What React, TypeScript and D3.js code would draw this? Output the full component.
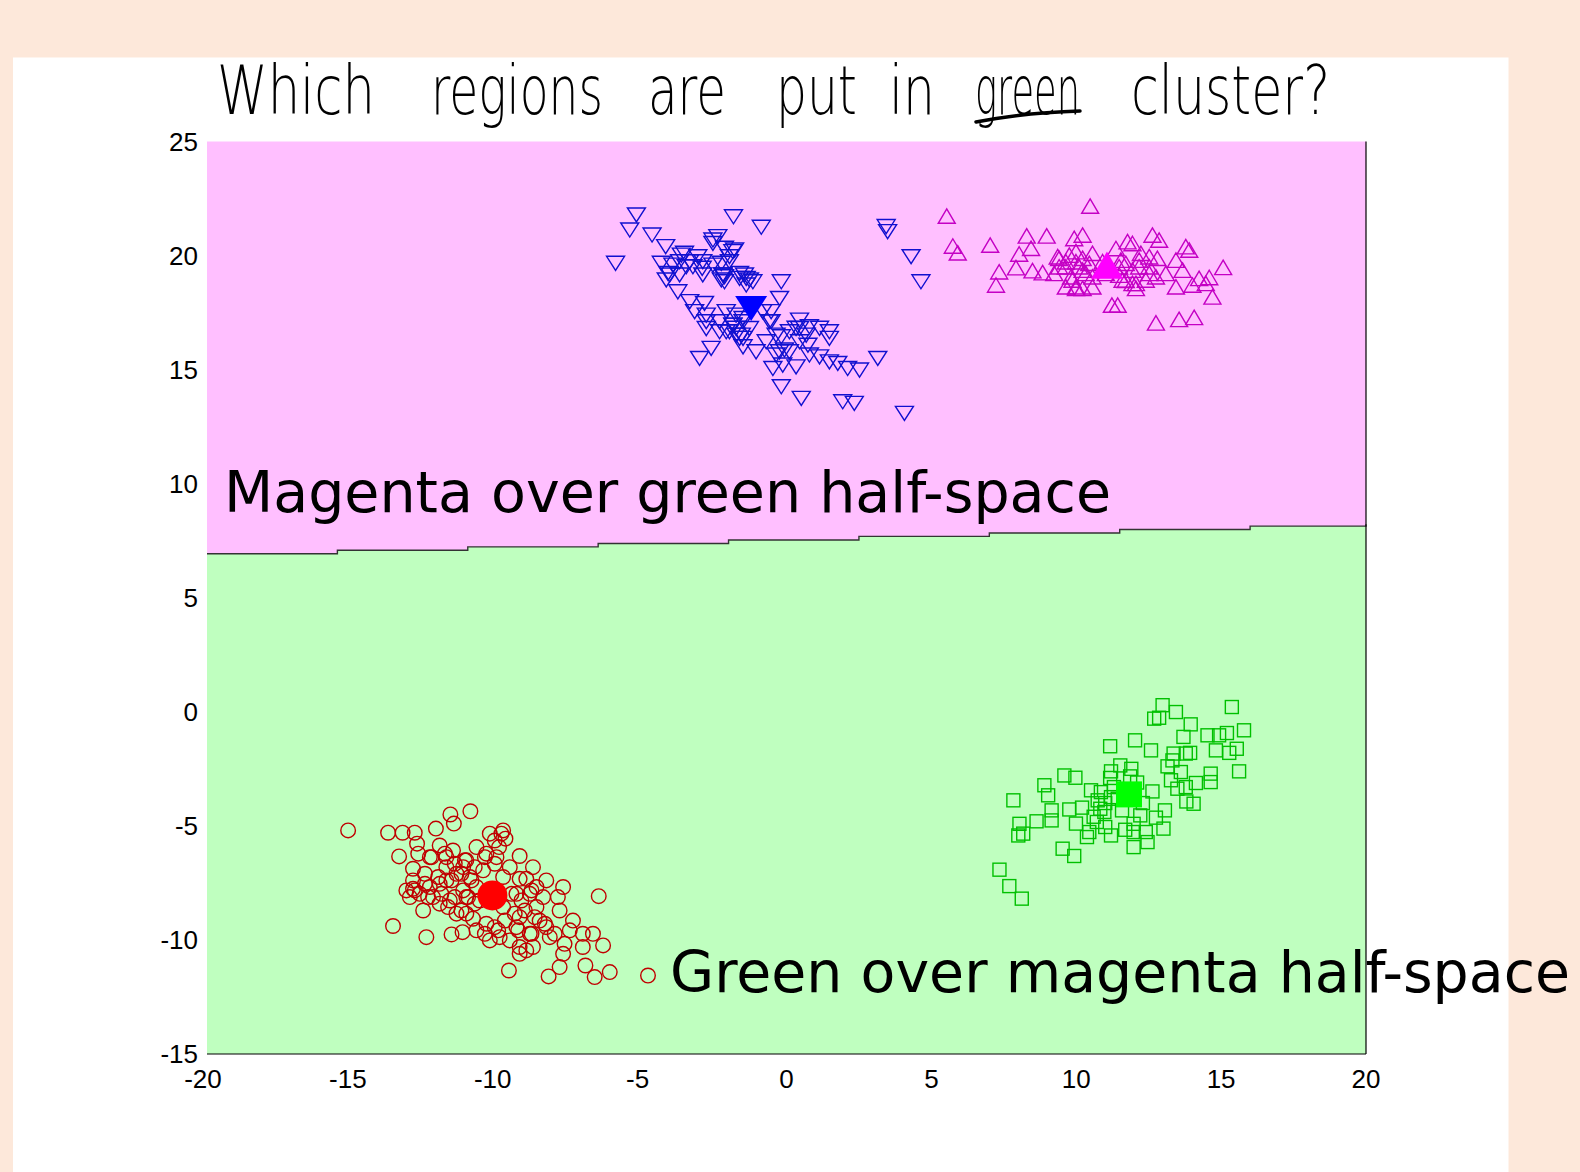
import React from 'react';
import * as d3 from 'd3';

// axis ticks
const xTicks = [-20, -15, -10, -5, 0, 5, 10, 15, 20];
const yTicks = [-15, -10, -5, 0, 5, 10, 15, 20, 25];

// decision boundary (stair-stepped, as rendered from the grid)
const boundaryX = [-20, -15.5, -11, -6.5, -2, 2.5, 7, 11.5, 16, 20];
const boundaryY = [6.93, 7.08, 7.23, 7.38, 7.53, 7.69, 7.84, 7.99, 8.14, 8.22];

// cluster points
const bluePoints: [number, number][] = [
  [-5.18, 21.78], [-5.41, 21.12], [-1.83, 21.7], [-0.87, 21.24], [-4.64, 20.9], [-5.9, 19.66],
  [-4.17, 20.39], [-3.63, 20.02], [-2.37, 20.83], [-2.54, 20.53], [-1.85, 20.17], [-1.97, 19.95],
  [-4.32, 19.66], [-3.34, 19.73], [-2.89, 19.73], [-2.25, 19.66], [-2.14, 19.07], [-4.09, 19.22],
  [-4.15, 18.93], [-3.69, 19.15], [-2.89, 19.15], [-1.45, 19.15], [-1.28, 18.93], [-0.18, 18.85],
  [-3.75, 18.41], [-3.34, 17.98], [-2.83, 17.9], [-3.17, 17.54], [-2.08, 17.54], [-1.74, 17.39],
  [-0.24, 18.12], [-0.53, 17.54], [-2.77, 16.8], [-2.31, 16.66], [-1.97, 16.66], [-1.56, 16.51],
  [-1.5, 16.0], [-1.05, 15.78], [-0.53, 17.1], [-0.18, 16.44], [-0.7, 16.22], [-0.36, 15.64],
  [-0.07, 15.86], [0.45, 17.17], [0.79, 16.88], [0.33, 16.81], [1.14, 16.81], [1.48, 16.66],
  [1.48, 16.37], [0.45, 16.22], [0.74, 16.07], [0.1, 15.78], [0.79, 15.64], [1.14, 15.56],
  [1.48, 15.34], [1.77, 15.27], [-0.47, 15.05], [-0.13, 15.2], [0.33, 15.12], [2.11, 15.05],
  [2.52, 14.98], [-2.6, 15.93], [-3.0, 15.49], [-0.18, 14.25], [0.51, 13.74], [1.94, 13.59],
  [2.34, 13.52], [3.15, 15.49], [4.07, 13.08], [3.44, 21.27], [3.49, 21.05], [4.3, 19.95],
  [4.64, 18.85], [-2.19, 19.15], [-2.25, 18.93], [-1.62, 19.22], [-1.39, 18.71], [-1.85, 16.95],
  [-1.74, 16.81], [-1.5, 17.1], [-1.62, 16.37], [-3.92, 19.58], [-3.46, 19.51], [-3.06, 19.95],
  [-3.52, 20.1], [-2.14, 20.32], [-1.97, 19.73], [-2.77, 17.1],
  [-2.54, 20.68], [-1.79, 20.24], [-2.2, 19.15], [-2.14, 18.85], [-1.62, 19.0], [-1.39, 19.0],
  [-1.16, 18.85], [-2.91, 19.44], [-3.23, 19.51], [-2.54, 19.58], [-3.69, 19.73], [-4.03, 19.15],
  [-1.5, 17.24], [-1.85, 16.95], [-2.08, 16.66], [-1.74, 16.51], [-1.5, 16.37], [-1.28, 16.8],
  [-2.31, 17.1], [-2.77, 17.39], [-0.82, 17.54], [-0.59, 17.1], [-0.36, 16.51], [0.1, 16.66],
  [0.45, 16.8], [0.68, 16.51], [-0.24, 15.78],
];
const blueCenter: [number, number] = [-1.22, 17.68];

const magentaPoints: [number, number][] = [
  [10.48, 22.17], [5.53, 21.73], [5.74, 20.42], [5.91, 20.12], [7.03, 20.46], [8.29, 20.86],
  [8.98, 20.86], [8.44, 20.32], [8.03, 20.07], [7.34, 19.29], [7.23, 18.71], [7.92, 19.47],
  [8.49, 19.34], [9.36, 19.95], [9.24, 19.22], [9.93, 20.75], [10.22, 20.9], [9.99, 20.17],
  [9.64, 19.73], [10.1, 19.51], [10.56, 20.1], [9.82, 19.07], [9.64, 18.63], [9.99, 18.56],
  [10.56, 18.63], [10.33, 19.22], [11.37, 20.31], [11.77, 20.61], [11.94, 20.53], [11.54, 19.8],
  [12.23, 20.1], [12.63, 20.9], [12.86, 20.68], [12.52, 19.95], [12.17, 19.51], [11.94, 18.78],
  [12.06, 18.56], [12.8, 19.88], [12.52, 19.22], [13.09, 19.22], [13.44, 19.8], [13.78, 20.39],
  [13.9, 20.24], [13.67, 19.36], [13.44, 18.63], [14.01, 18.71], [14.24, 19.0], [14.47, 18.78],
  [14.59, 19.04], [14.7, 18.19], [15.07, 19.48], [11.23, 17.83], [11.43, 17.83], [12.75, 17.05],
  [13.55, 17.2], [14.07, 17.29], [8.84, 19.25], [10.91, 19.73], [11.02, 19.22], [11.48, 19.14],
  [11.71, 18.92], [9.41, 19.51], [10.22, 19.88],
  [9.41, 19.88], [9.76, 20.02], [9.99, 19.73], [9.64, 19.51], [10.22, 19.36], [9.87, 18.93],
  [10.45, 19.66], [10.56, 19.07], [9.99, 18.63], [10.22, 18.56], [11.71, 19.66], [11.94, 19.36],
  [11.48, 19.51], [11.6, 18.93], [12.06, 18.78], [12.17, 19.8], [12.52, 19.51], [12.75, 19.07],
  [12.4, 18.93],
];
const magentaCenter: [number, number] = [11.06, 19.58];

const redPoints: [number, number][] = [
  [-15.13, -5.2], [-13.75, -5.3], [-13.25, -5.3], [-12.83, -5.3], [-12.1, -5.12], [-11.6, -4.5],
  [-11.48, -4.9], [-10.91, -4.36], [-9.78, -5.2], [-9.7, -5.56], [-9.92, -5.93], [-9.21, -6.32],
  [-13.37, -6.34], [-12.75, -5.78], [-11.97, -5.86], [-12.89, -6.88], [-12.31, -6.37], [-11.51, -6.08],
  [-10.7, -5.93], [-10.36, -6.22], [-11.05, -6.51], [-11.74, -6.81], [-12.89, -7.39], [-12.48, -7.1],
  [-11.97, -7.54], [-12.66, -7.98], [-12.89, -7.76], [-11.39, -7.1], [-10.93, -7.24], [-10.47, -6.95],
  [-9.78, -7.24], [-8.98, -7.32], [-8.29, -7.39], [-7.71, -7.68], [-12.2, -8.12], [-11.62, -8.27],
  [-11.05, -8.12], [-11.39, -8.85], [-10.82, -9.07], [-10.36, -9.29], [-9.95, -9.58], [-10.24, -10.02],
  [-10.7, -9.58], [-9.32, -7.98], [-8.86, -7.98], [-8.4, -8.12], [-8.63, -8.56], [-9.21, -9.0],
  [-9.32, -9.44], [-8.86, -9.73], [-8.29, -9.44], [-7.83, -8.71], [-7.37, -9.15], [-7.48, -9.58],
  [-7.03, -9.73], [-6.68, -9.73], [-6.33, -10.24], [-7.66, -10.17], [-7.71, -10.61], [-8.75, -10.31],
  [-9.21, -10.31], [-9.21, -10.61], [-7.83, -11.19], [-9.58, -11.34], [-8.21, -11.6], [-6.94, -11.12],
  [-6.62, -11.63], [-6.1, -11.41], [-4.78, -11.56], [-6.48, -8.08], [-13.58, -9.39], [-12.43, -9.88],
  [-11.56, -9.76], [-11.18, -9.66], [-9.21, -7.32], [-8.63, -7.68], [-9.78, -8.56], [-11.16, -7.83],
  [-10.59, -8.27], [-11.74, -7.39], [-13.12, -7.83], [-13.0, -8.12], [-12.54, -8.71], [-11.97, -8.41],
  [-9.55, -6.81], [-10.24, -5.34], [-10.01, -6.37], [-10.7, -7.68], [-10.24, -7.83], [-8.52, -9.15],
  [-8.17, -9.88], [-9.55, -10.02], [-9.9, -9.88], [-7.03, -10.31], [-8.98, -10.46], [-11.05, -8.85],
  [-12.31, -7.68], [-11.74, -6.37], [-11.16, -6.81], [-8.75, -6.81],
  [-12.71, -6.22], [-12.25, -6.37], [-11.79, -6.22], [-11.45, -6.66], [-11.1, -6.51], [-10.76, -6.81],
  [-10.41, -6.37], [-10.07, -6.66], [-11.22, -7.1], [-10.87, -7.39], [-11.56, -7.39], [-12.02, -7.24],
  [-12.48, -7.54], [-12.83, -7.83], [-12.37, -8.12], [-11.91, -7.98], [-11.45, -8.12], [-10.99, -8.12],
  [-11.68, -8.56], [-11.22, -8.71], [-10.76, -8.41], [-9.49, -7.98], [-9.15, -8.27], [-8.8, -7.83],
  [-9.03, -8.71], [-9.38, -8.85], [-8.69, -9.0], [-9.72, -9.15], [-10.07, -9.44], [-10.41, -9.73],
  [-9.26, -9.58], [-8.8, -9.73], [-8.34, -9.29], [-8.0, -9.73], [-7.89, -8.12], [-10.07, -5.64],
  [-9.84, -5.34],
];
const redCenter: [number, number] = [-10.15, -8.05];

const greenPoints: [number, number][] = [
  [12.98, 0.29], [13.44, -0.01], [12.69, -0.3], [12.86, -0.26], [15.37, 0.21], [13.95, -0.55],
  [13.7, -1.1], [14.53, -1.03], [14.93, -1.03], [15.2, -0.93], [15.79, -0.81], [11.17, -1.51],
  [12.03, -1.25], [12.58, -1.69], [13.36, -1.83], [13.78, -1.83], [13.93, -1.8], [14.82, -1.69],
  [15.28, -1.8], [15.54, -1.62], [15.62, -2.61], [13.15, -2.39], [13.32, -2.13], [13.61, -2.64],
  [13.27, -3.0], [13.49, -3.37], [13.78, -3.3], [14.13, -3.12], [14.64, -2.71], [14.64, -3.08],
  [13.8, -3.93], [14.05, -4.03], [13.06, -4.32], [13.01, -5.12], [12.75, -4.64], [12.63, -3.49],
  [11.52, -2.35], [11.2, -2.61], [11.17, -2.9], [11.86, -2.83], [10.51, -3.44], [10.85, -3.52],
  [9.59, -2.79], [9.97, -2.89], [8.9, -3.22], [9.03, -3.66], [7.83, -3.88], [9.15, -4.32],
  [9.15, -4.76], [8.63, -4.8], [8.04, -4.91], [8.0, -5.42], [8.17, -5.34], [9.76, -4.28],
  [10.2, -4.2], [10.74, -3.88], [10.83, -4.25], [11.2, -3.74], [9.99, -4.9], [10.37, -5.49],
  [10.45, -5.27], [10.71, -4.83], [11.0, -5.05], [11.2, -5.42], [11.58, -4.32], [11.69, -5.17],
  [11.98, -4.91], [12.21, -4.54], [11.98, -5.27], [11.98, -5.93], [12.4, -5.27], [12.46, -5.71],
  [9.53, -6.0], [9.93, -6.32], [7.35, -6.92], [7.69, -7.64], [8.12, -8.19], [10.97, -4.39],
  [11.43, -3.81], [11.3, -3.3], [11.0, -4.0], [12.3, -4.0], [12.1, -3.1], [10.6, -4.6], [11.9, -2.5],
];
const greenCenter: [number, number] = [11.82, -3.62];

const titleWords = [
  { t: 'Which', x0: 217, x1: 375 },
  { t: 'regions', x0: 431, x1: 603 },
  { t: 'are', x0: 648, x1: 726 },
  { t: 'put', x0: 776, x1: 857 },
  { t: 'in', x0: 889, x1: 935 },
  { t: 'green', x0: 975, x1: 1080 },
  { t: 'cluster?', x0: 1131, x1: 1330 },
];

const W = 1580;
const H = 1172;
const plot = { left: 207, right: 1366, top: 141.5, bottom: 1054 };
const titleSx = 0.68;

const downTri = (s: number) => `M${-s},${-s * 0.78}L${s},${-s * 0.78}L0,${s * 0.78}Z`;
const upTri = (s: number) => `M0,${-s * 0.85}L${s},${s * 0.85}L${-s},${s * 0.85}Z`;

const App: React.FC = () => {
  const x = d3.scaleLinear().domain([-20, 20]).range([plot.left, plot.right]);
  const y = d3.scaleLinear().domain([-15, 25]).range([plot.bottom, plot.top]);

  const boundary = boundaryX.map((bx, i) => [bx, boundaryY[i]] as [number, number]);

  const topArea = d3.area<[number, number]>()
    .x((d) => x(d[0]))
    .y0(plot.top)
    .y1((d) => y(d[1]))
    .curve(d3.curveStepAfter)(boundary) || '';
  const bottomArea = d3.area<[number, number]>()
    .x((d) => x(d[0]))
    .y0(plot.bottom)
    .y1((d) => y(d[1]))
    .curve(d3.curveStepAfter)(boundary) || '';
  const boundaryLine = d3.line<[number, number]>()
    .x((d) => x(d[0]))
    .y((d) => y(d[1]))
    .curve(d3.curveStepAfter)(boundary) || '';

  const tickFont = '"Liberation Sans", Arial, sans-serif';
  const labelFont = '"DejaVu Sans", sans-serif';

  return (
    <svg width={W} height={H} style={{ position: 'absolute', left: 0, top: 0 }}>
      <rect x={0} y={0} width={W} height={H} fill="#fde8da" />
      <rect x={13} y={57.5} width={1495.5} height={H - 57.5} fill="#ffffff" />

      {/* title, hand-lettered in the original */}
      <g transform={`scale(${titleSx},1)`} fontFamily={labelFont} fontWeight={200} fontSize={68} fill="#000">
        {titleWords.map((w) => (
          <text key={w.t} x={w.x0 / titleSx} y={114} textLength={(w.x1 - w.x0) / titleSx} lengthAdjust="spacingAndGlyphs">
            {w.t}
          </text>
        ))}
      </g>
      <path d="M976,122 Q1020,113 1080,111" stroke="#000" strokeWidth={3.5} fill="none" strokeLinecap="round" />

      {/* decision regions */}
      <path d={topArea} fill="#ffbfff" />
      <path d={bottomArea} fill="#bfffbf" />
      <path d={boundaryLine} fill="none" stroke="#333" strokeWidth={1.4} />

      {/* box: right and bottom edges */}
      <line x1={plot.right} x2={plot.right} y1={plot.top} y2={plot.bottom} stroke="#000" strokeWidth={1.2} />
      <line x1={plot.left} x2={plot.right} y1={plot.bottom} y2={plot.bottom} stroke="#000" strokeWidth={1.2} />

      {/* tick labels */}
      <g fontFamily={tickFont} fontSize={26} fill="#000">
        {yTicks.map((t) => (
          <text key={`y${t}`} x={198} y={y(t)} textAnchor="end" dominantBaseline="central">{t}</text>
        ))}
        {xTicks.map((t) => (
          <text key={`x${t}`} x={x(t) - (t < 0 ? 4 : 0)} y={1088} textAnchor="middle">{t}</text>
        ))}
      </g>

      {/* clusters */}
      <g fill="none" stroke="#1010d0" strokeWidth={1.4}>
        {bluePoints.map((p, i) => (
          <path key={`b${i}`} d={downTri(9)} transform={`translate(${x(p[0])},${y(p[1])})`} />
        ))}
      </g>
      <g fill="none" stroke="#c400c4" strokeWidth={1.4}>
        {magentaPoints.map((p, i) => (
          <path key={`m${i}`} d={upTri(8.5)} transform={`translate(${x(p[0])},${y(p[1])})`} />
        ))}
      </g>
      <g fill="none" stroke="#c00000" strokeWidth={1.4}>
        {redPoints.map((p, i) => (
          <circle key={`r${i}`} cx={x(p[0])} cy={y(p[1])} r={7.3} />
        ))}
      </g>
      <g fill="none" stroke="#00c000" strokeWidth={1.4}>
        {greenPoints.map((p, i) => (
          <rect key={`g${i}`} x={x(p[0]) - 6.5} y={y(p[1]) - 6.5} width={13} height={13} />
        ))}
      </g>

      {/* cluster centres */}
      <path d={downTri(16)} transform={`translate(${x(blueCenter[0])},${y(blueCenter[1])})`} fill="#0000ff" />
      <path d={upTri(16)} transform={`translate(${x(magentaCenter[0])},${y(magentaCenter[1])})`} fill="#ff00ff" />
      <circle cx={x(redCenter[0])} cy={y(redCenter[1])} r={15} fill="#ff0000" />
      <rect x={x(greenCenter[0]) - 13} y={y(greenCenter[1]) - 13} width={26} height={26} fill="#00ff00" />

      {/* region labels */}
      <g fontFamily={labelFont} fontSize={57} fill="#000">
        <text x={224} y={512} textLength={887} lengthAdjust="spacingAndGlyphs">Magenta over green half-space</text>
        <text x={670} y={992} textLength={900} lengthAdjust="spacingAndGlyphs">Green over magenta half-space</text>
      </g>
    </svg>
  );
};

export default App;
